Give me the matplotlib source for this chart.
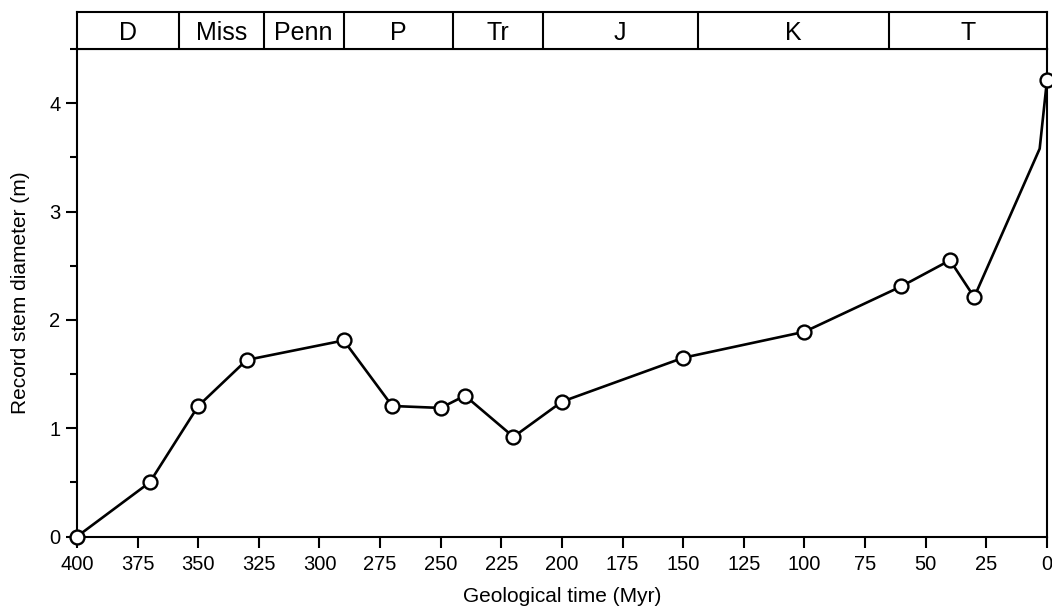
import matplotlib
matplotlib.use("Agg")
import matplotlib.pyplot as plt
from matplotlib.ticker import MultipleLocator

plt.rcParams['font.family'] = ['Liberation Sans', 'DejaVu Sans']

# record stem diameter through time
age = [400, 370, 350, 330, 290, 270, 250, 240, 220, 200, 150, 100, 60, 40, 30, 3, 0]
diam = [0.0, 0.50, 1.205, 1.63, 1.81, 1.205, 1.187, 1.30, 0.92, 1.245, 1.65, 1.89, 2.31, 2.55, 2.21, 3.58, 4.21]
has_marker = [True] * 15 + [False, True]

# geological periods (boundaries in Myr)
periods = ['D', 'Miss', 'Penn', 'P', 'Tr', 'J', 'K', 'T']
bounds = [400, 358, 323, 290, 245, 208, 144, 65, 0]

fig = plt.figure(figsize=(10.52, 6.09), dpi=100)
ax = fig.add_axes([0.0732, 0.119, 0.922, 0.8005])
band = fig.add_axes([0.0732, 0.9195, 0.922, 0.06], sharex=ax)

lw = 1.5
ax.plot(age, diam, color='black', lw=1.9, zorder=2, clip_on=False)
mx = [a for a, m in zip(age, has_marker) if m]
my = [d for d, m in zip(diam, has_marker) if m]
ax.plot(mx, my, 'o', ms=10, mfc='white', mec='black', mew=1.7, zorder=3, clip_on=False)

ax.set_xlim(400, 0)
ax.set_ylim(0, 4.5)
ax.xaxis.set_major_locator(MultipleLocator(25))
ax.yaxis.set_major_locator(MultipleLocator(1))
ax.yaxis.set_minor_locator(MultipleLocator(0.5))
ax.tick_params(axis='both', which='major', direction='out', length=8, width=lw,
               labelsize=14.5, color='black')
ax.tick_params(axis='y', which='minor', direction='out', length=5, width=lw)
ax.tick_params(axis='x', pad=5)
ax.tick_params(axis='y', pad=4)
for s in ax.spines.values():
    s.set_linewidth(lw)
ax.set_xlabel('Geological time (Myr)', fontsize=15, labelpad=10)
ax.set_ylabel('Record stem diameter (m)', fontsize=15, labelpad=14)

# period band on top
band.set_ylim(0, 1)
band.set_yticks([])
band.tick_params(axis='x', which='both', bottom=False, labelbottom=False)
for s in band.spines.values():
    s.set_linewidth(lw)
for i, name in enumerate(periods):
    b0, b1 = bounds[i], bounds[i + 1]
    if i > 0:
        band.axvline(b0, color='black', lw=lw)
    band.text((b0 + b1) / 2, 0.45, name, ha='center', va='center', fontsize=18)

fig.savefig('out.png', dpi=100)
